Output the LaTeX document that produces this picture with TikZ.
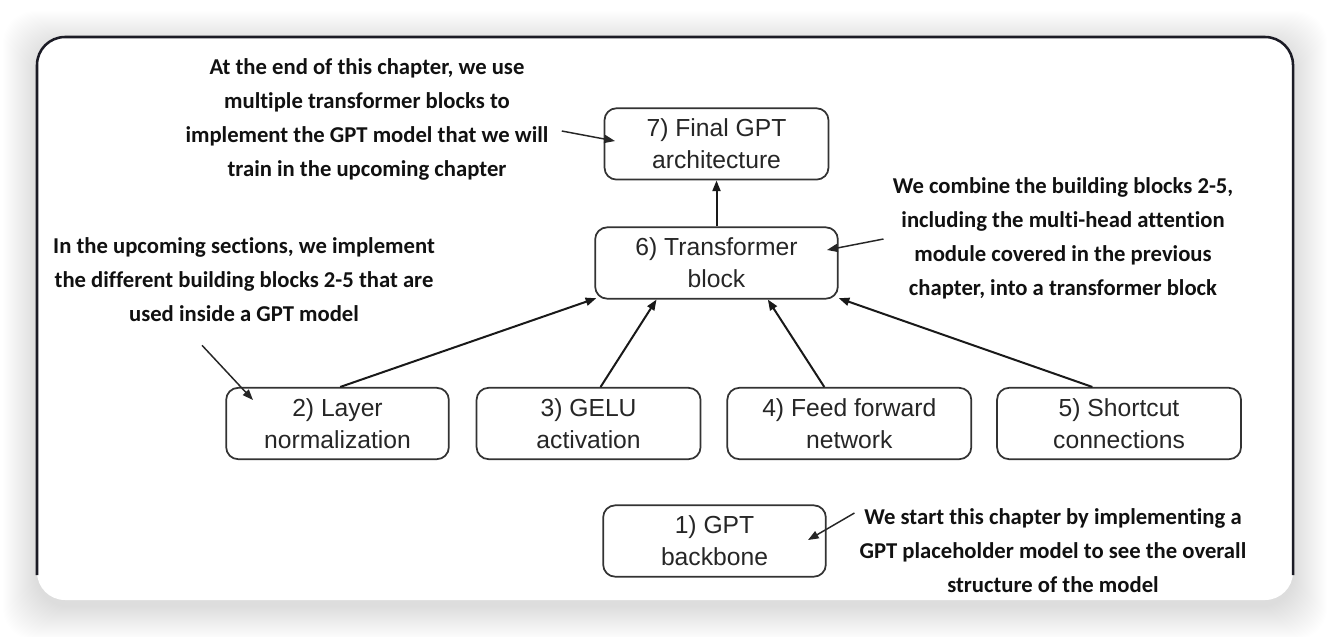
\documentclass[tikz,border=0pt]{standalone}
\usepackage{fontspec}
\setmainfont{Liberation Sans}
\newfontfamily\notefont{Carlito}[Ligatures=NoCommon]
\usepackage{xcolor}
\usetikzlibrary{arrows.meta, positioning}
\definecolor{cardedge}{HTML}{1B1B25}
\definecolor{boxedge}{HTML}{333333}
\definecolor{notetext}{HTML}{111111}

\begin{document}
\begin{tikzpicture}[x=0.75pt, y=-0.75pt, >={Triangle[length=8pt, width=6pt]}]
    \tikzstyle{blk} = [rectangle, draw=boxedge, line width=1.3pt, rounded corners=9pt, minimum height=53.5pt, align=center, inner sep=0pt, font=\fontsize{18.5}{24}\selectfont, text=black!85]
    \tikzstyle{note} = [align=center, inner sep=0pt, text=notetext, font=\notefont\bfseries\fontsize{17}{25.5}\selectfont]
    \tikzstyle{link} = [->, line width=1.5pt, draw=black!90]
    \tikzstyle{hint} = [->, line width=1.1pt, draw=black!85]

    % card with its shadow
    \useasboundingbox (0,0) rectangle (1330,636);
    \fill [white] (0,0) rectangle (1330,636);
    \foreach \s in {1,...,34}
        \fill [black, opacity=0.0045, rounded corners=24pt] (37-\s,45-\s) rectangle (1293+\s,606+\s);
    \fill [white, rounded corners=21pt] (37,37) rectangle (1293,600);
    \draw [cardedge, line width=1.9pt, rounded corners=21pt] (37,575) -- (37,37) -- (1293,37) -- (1293,575);

    % building blocks
    \node [blk, minimum width=182pt] (b6) at (716.5,263) {6) Transformer\\block};
    \node [blk, minimum width=168pt, above=34.5pt of b6] (b7) {7) Final GPT\\architecture};
    \node [blk, minimum width=167pt] (b2) at (337.5,423.5) {2) Layer\\normalization};
    \node [blk, minimum width=168pt, right=19.5pt of b2] (b3) {3) GELU\\activation};
    \node [blk, minimum width=183pt, right=18.75pt of b3] (b4) {4) Feed forward\\network};
    \node [blk, minimum width=183pt, right=18pt of b4] (b5) {5) Shortcut\\connections};
    \node [blk, minimum width=167pt] (b1) at (714.5,541) {1) GPT\\backbone};

    % notes
    \node [note] (n7) at (367,119) {At the end of this chapter, we use\\multiple transformer blocks to\\implement the GPT model that we will\\train in the upcoming chapter};
    \node [note] (n2) at (244,280) {In the upcoming sections, we implement\\the different building blocks 2-5 that are\\used inside a GPT model};
    \node [note] (n6) at (1063,238) {We combine the building blocks 2-5,\\including the multi-head attention\\module covered in the previous\\chapter, into a transformer block};
    \node [note] (n1) at (1053,551) {We start this chapter by implementing a\\GPT placeholder model to see the overall\\structure of the model};

    \draw [link] (b6) -- (b7);
    \draw [link] ([xshift=2pt]b2.north) -- ([xshift=1.5pt,yshift=1pt]b6.south west);
    \draw [link] ([xshift=9pt]b3.north) -- ([xshift=-45pt]b6.south);
    \draw [link] ([xshift=-18.75pt]b4.north) -- ([xshift=38.5pt]b6.south);
    \draw [link] ([xshift=-20pt]b5.north) -- ([yshift=1pt]b6.south east);

    \coordinate (t7) at (615,141);
    \coordinate (t2) at (253,400);
    \coordinate (t6) at (827,250);
    \coordinate (t1) at (808,540);
    \draw [hint] ([shift={(13,12)}]n7.east) -- (t7);
    \draw [hint] ([shift={(-42,23)}]n2.south) -- (t2);
    \draw [hint] ([shift={(-9,1)}]n6.west) -- (t6);
    \draw [hint] ([shift={(-5,-38)}]n1.west) -- (t1);
\end{tikzpicture}
\end{document}
